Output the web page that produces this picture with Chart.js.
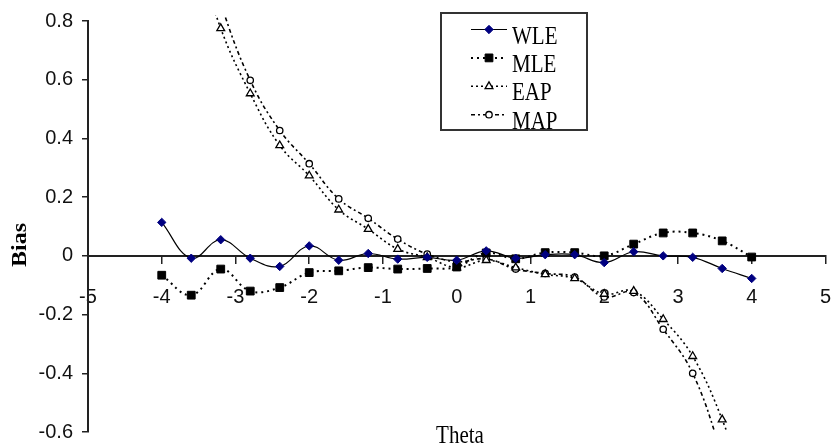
<!DOCTYPE html>
<html>
<head>
<meta charset="utf-8">
<script src="https://cdn.jsdelivr.net/npm/chart.js@4/dist/chart.umd.min.js"></script>
<style>
  html, body { margin: 0; padding: 0; background: #fff; overflow: hidden; }
  #wrap { position: relative; width: 854px; height: 453px; }
</style>
</head>
<body>
<div id="wrap"><canvas id="c" width="854" height="453"></canvas></div>
<script>
// Ability values at which the estimators were evaluated
const theta = [-4, -3.6, -3.2, -2.8, -2.4, -2, -1.6, -1.2, -0.8, -0.4, 0,
               0.4, 0.8, 1.2, 1.6, 2, 2.4, 2.8, 3.2, 3.6, 4];

// Bias of each estimator
const wle = [0.114, -0.008, 0.055, -0.008, -0.036, 0.034, -0.015, 0.008, -0.011, -0.005, -0.015,
             0.017, -0.008, 0.004, 0.004, -0.023, 0.014, 0.0, -0.005, -0.043, -0.077];
const mle = [-0.066, -0.134, -0.045, -0.12, -0.108, -0.057, -0.051, -0.04, -0.045, -0.043, -0.038,
             0.01, -0.01, 0.011, 0.011, 0.0, 0.04, 0.078, 0.078, 0.051, -0.004];
const eap = [1.5, 1.1, 0.775, 0.553, 0.376, 0.273, 0.157, 0.091, 0.023, -0.005, -0.04,
             -0.015, -0.04, -0.063, -0.077, -0.13, -0.12, -0.216, -0.342, -0.558, -0.85];
const map = [1.6, 1.2, 0.86, 0.598, 0.427, 0.314, 0.194, 0.128, 0.057, 0.006, -0.02,
             -0.01, -0.045, -0.06, -0.072, -0.14, -0.125, -0.25, -0.4, -0.68, -1.0];

const seriesNames = ['WLE', 'MLE', 'EAP', 'MAP'];
const xTitle = 'Theta';
const yTitle = 'Bias';

const pts = (ys) => theta.map((t, i) => ({ x: t, y: ys[i] }));

const base = { showLine: true, tension: 0.4, clip: { left: 0, top: 6, right: 0, bottom: 0 } };

const datasets = [
  Object.assign({}, base, {
    label: seriesNames[0], data: pts(wle),
    borderColor: '#000', borderWidth: 1.2,
    pointStyle: 'rectRot', pointRadius: 4.2,
    pointBackgroundColor: '#000080', pointBorderColor: '#000080', pointBorderWidth: 1
  }),
  Object.assign({}, base, {
    label: seriesNames[1], data: pts(mle),
    borderColor: '#000', borderWidth: 2, borderDash: [2, 4],
    pointStyle: 'rect', pointRadius: 5.5,
    pointBackgroundColor: '#000', pointBorderColor: '#000', pointBorderWidth: 1
  }),
  Object.assign({}, base, {
    label: seriesNames[2], data: pts(eap),
    borderColor: '#000', borderWidth: 1.6, borderDash: [2, 3],
    pointStyle: 'triangle', pointRadius: 4.5,
    pointBackgroundColor: '#fff', pointBorderColor: '#000', pointBorderWidth: 1.3
  }),
  Object.assign({}, base, {
    label: seriesNames[3], data: pts(map),
    borderColor: '#000', borderWidth: 1.6, borderDash: [4, 3, 2, 3],
    pointStyle: 'circle', pointRadius: 3.2,
    pointBackgroundColor: '#fff', pointBorderColor: '#000', pointBorderWidth: 1.3
  })
];

// Axis titles and the boxed legend
const decorations = {
  id: 'decorations',
  afterDraw(chart) {
    const ctx = chart.ctx;
    ctx.save();
    ctx.fillStyle = '#000';

    // x-axis title
    ctx.font = '21px "Liberation Serif", serif';
    ctx.textAlign = 'center';
    ctx.textBaseline = 'alphabetic';
    ctx.save();
    ctx.translate(460, 443);
    ctx.scale(1, 1.2);
    ctx.fillText(xTitle, 0, 0);
    ctx.restore();

    // y-axis title
    ctx.save();
    ctx.translate(26, 245);
    ctx.rotate(-Math.PI / 2);
    ctx.scale(1.2, 1);
    ctx.font = 'bold 20px "Liberation Serif", serif';
    ctx.textAlign = 'center';
    ctx.textBaseline = 'alphabetic';
    ctx.fillText(yTitle, 0, 0);
    ctx.restore();

    // legend box
    const bx = 441, by = 13, bw = 146, bh = 117;
    ctx.fillStyle = '#fff';
    ctx.fillRect(bx, by, bw, bh);
    ctx.save();
    ctx.beginPath();
    ctx.rect(bx, by, bw, bh);
    ctx.clip();
    chart.data.datasets.forEach((ds, i) => {
      const y = 29.5 + i * 28.4;
      ctx.save();
      ctx.strokeStyle = ds.borderColor;
      ctx.lineWidth = ds.borderWidth;
      ctx.setLineDash(ds.borderDash || []);
      ctx.beginPath();
      ctx.moveTo(471, y);
      ctx.lineTo(507, y);
      ctx.stroke();
      ctx.restore();
      ctx.save();
      ctx.fillStyle = ds.pointBackgroundColor;
      ctx.strokeStyle = ds.pointBorderColor;
      ctx.lineWidth = ds.pointBorderWidth;
      Chart.helpers.drawPoint(ctx, {
        pointStyle: ds.pointStyle, radius: ds.pointRadius, rotation: 0,
        borderWidth: ds.pointBorderWidth
      }, 489, y);
      ctx.restore();
      ctx.save();
      ctx.fillStyle = '#000';
      ctx.font = '21px "Liberation Serif", serif';
      ctx.textAlign = 'left';
      ctx.textBaseline = 'alphabetic';
      ctx.translate(512, y + 14);
      ctx.scale(1, 1.2);
      ctx.fillText(ds.label, 0, 0);
      ctx.restore();
    });
    ctx.restore();
    ctx.strokeStyle = '#333';
    ctx.lineWidth = 2;
    ctx.strokeRect(bx, by, bw, bh);
    ctx.restore();
  }
};

const tickFont = { family: '"Liberation Sans", Arial, sans-serif', size: 20 };

new Chart(document.getElementById('c'), {
  type: 'scatter',
  data: { datasets },
  options: {
    responsive: false,
    animation: false,
    devicePixelRatio: 1,
    layout: { padding: { left: 0, top: 21, right: 20, bottom: 15 } },
    plugins: { legend: { display: false }, tooltip: { enabled: false } },
    scales: {
      x: {
        type: 'linear',
        position: { y: 0 },
        min: -5, max: 5,
        ticks: { stepSize: 1, padding: 23, color: '#111', font: tickFont, maxRotation: 0, autoSkip: false },
        grid: { drawOnChartArea: false, drawTicks: true, tickLength: 7, color: '#222', lineWidth: 1.5 },
        border: { display: true, color: '#222', width: 2 }
      },
      y: {
        type: 'linear',
        position: 'left',
        min: -0.6, max: 0.8,
        ticks: { stepSize: 0.2, padding: 9, color: '#111', font: tickFont },
        grid: { drawOnChartArea: false, drawTicks: true, tickLength: 6, color: '#222', lineWidth: 1.5 },
        border: { display: true, color: '#222', width: 2 },
        afterFit(scale) { scale.width = 88; }
      }
    }
  },
  plugins: [decorations]
});
</script>
</body>
</html>
